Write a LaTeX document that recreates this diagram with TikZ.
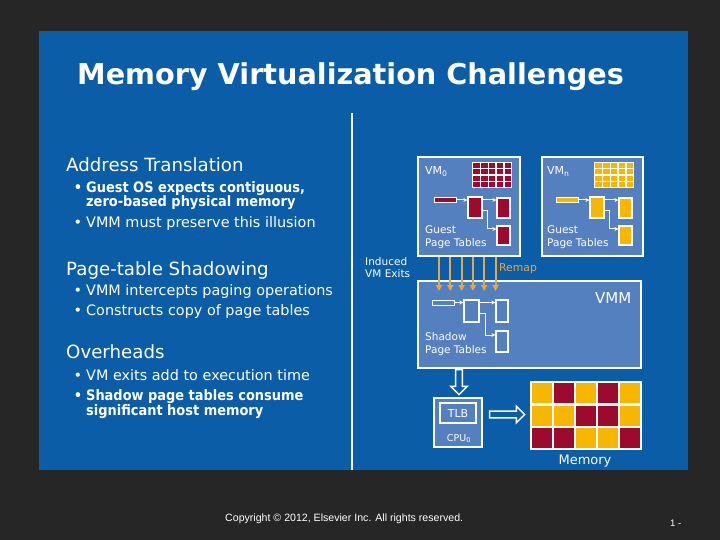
\documentclass[tikz,border=0pt]{standalone}
\usepackage{fontspec}
\setmainfont{DejaVu Sans}
\newfontfamily\condfont{DejaVu Sans Condensed}
\newfontfamily\copyfont{Liberation Sans}
\usetikzlibrary{arrows.meta, positioning, shapes.arrows}

\definecolor{slidegray}{HTML}{262626}
\definecolor{panelblue}{HTML}{0B5DA7}
\definecolor{boxblue}{HTML}{5580C0}
\definecolor{pagered}{HTML}{9C0B2D}
\definecolor{pageyellow}{HTML}{F7B600}
\definecolor{exitorange}{HTML}{E8A83C}
\colorlet{memy}{pageyellow}
\colorlet{memr}{pagered}

\newcommand{\dotitem}{\llap{\textbullet\hspace{4pt}}}

\begin{document}
\begin{tikzpicture}[
  x=1pt, y=-1pt,
  heading/.style={anchor=base west, inner sep=0pt, text=white, font=\fontsize{18.2}{20}\selectfont},
  itemtext/.style={anchor=base west, inner sep=0pt, text=white, align=left, font=\fontsize{14.4}{14.5}\selectfont},
  bolditem/.style={itemtext, font=\condfont\fontsize{14.4}{14.5}\selectfont\bfseries},
  vmbox/.style={draw=white, line width=2pt, fill=boxblue, inner sep=0pt},
  boxtag/.style={anchor=base west, inner sep=0pt, text=white, align=left, font=\fontsize{10.5}{13}\selectfont},
  ptab/.style={draw=white, line width=1.2pt, inner sep=0pt, minimum width=13pt, minimum height=20pt},
  pbar/.style={draw=white, line width=1pt, inner sep=0pt, minimum width=22pt, minimum height=5pt},
  link/.style={white, line width=1pt, -{Stealth[length=4pt, width=4pt]}},
  exit/.style={exitorange, line width=2pt, -{Triangle[length=6pt, width=6pt]}},
  hollow/.style={single arrow, draw=white, line width=1.5pt, fill=panelblue, inner xsep=0pt, inner ysep=2.6pt,
    single arrow head extend=5pt, minimum width=0pt}
]
% slide background
\fill[slidegray] (0,0) rectangle (720,540);
\useasboundingbox (0,0) rectangle (720,540);
\fill[panelblue] (39,31) rectangle (688,470);

\node[anchor=base west, inner sep=0pt, text=white, font=\fontsize{28.7}{30}\selectfont\bfseries]
  (title) at (77,85) {Memory Virtualization Challenges};

% left column
\node[heading]  (addr) at (66,172) {Address Translation};
\node[bolditem] (a1)   at (86,207) {\dotitem Guest OS expects contiguous,\\zero-based physical memory};
\node[itemtext] (a2)   at (86,228) {\dotitem VMM must preserve this illusion};
\node[heading]  (shad) at (66,275) {Page-table Shadowing};
\node[itemtext] (s1)   at (86,295) {\dotitem VMM intercepts paging operations};
\node[itemtext] (s2)   at (86,315) {\dotitem Constructs copy of page tables};
\node[heading]  (over) at (66,358) {Overheads};
\node[itemtext] (o1)   at (86,380) {\dotitem VM exits add to execution time};
\node[bolditem] (o2)   at (86,415) {\dotitem Shadow page tables consume\\significant host memory};

\draw[white, line width=1.5pt] (352,113) -- (352,470);

% guest VMs
\node[vmbox, minimum width=102pt, minimum height=99pt] (vm0) at (469,206.5) {};
\node[vmbox, minimum width=101pt, minimum height=99pt, right=20pt of vm0] (vmn) {};
\node[vmbox, minimum width=223pt, minimum height=87pt] (vmm) at (529.5,324.5) {};

\foreach \dx/\col/\id in {0/pagered/0, 122/pageyellow/n} {
  \begin{scope}[xshift=\dx]
    \fill[white] (472,162) rectangle (512,188);
    \foreach \i in {0,...,4}
      \foreach \j in {0,...,3}
        \fill[\col] (473.3+7.8*\i,163.3+6.2*\j) rectangle ++(6.4,5);
    \node[anchor=base west, inner sep=0pt, text=white, font=\fontsize{11}{13}\selectfont]
      (vmlbl\id) at (425,175) {VM\textsubscript{\id}};
    \node[pbar, fill=\col] (gbar\id) at (445,200) {};
    \node[ptab, fill=\col, minimum width=14pt, minimum height=21pt] (gta\id) at (475,207.5) {};
    \node[ptab, fill=\col] (gtb\id) at (503.5,208) {};
    \node[ptab, fill=\col, minimum height=19pt] (gtc\id) at (503.5,235.5) {};
    \draw[link] (gbar\id) -- (gbar\id -| gta\id.west);
    \draw[link] (gta\id.east |- gbar\id) -- (gtb\id.west |- gbar\id);
    \draw[link] ([yshift=-3.5pt]gta\id.east) -- ++(5,0) |- ([yshift=6.5pt]gtc\id.west);
    \node[boxtag] (gtag\id) at (425,246) {Guest\\Page Tables};
  \end{scope}
}

% induced exits
\foreach \k in {0,...,5}
  \draw[exit] ([xshift={22+11.3*\k}]vm0.south west) -- ([xshift={22+11.3*\k}, yshift=-11pt]vmm.north west);
\node[boxtag, font=\fontsize{10.5}{12}\selectfont] (induced) at (365,277) {Induced\\VM Exits};
\node[anchor=base west, inner sep=0pt, text=exitorange, font=\fontsize{10.8}{13}\selectfont] (remap) at (499,271) {Remap};

% VMM
\node[anchor=base west, inner sep=0pt, text=white, font=\fontsize{15}{17}\selectfont] (vmmlbl) at (595,303) {VMM};
\node[pbar, fill=boxblue] (sbar) at (443.5,302.5) {};
\node[ptab, fill=boxblue, minimum width=15pt, minimum height=22pt] (sta) at (471.5,311) {};
\node[ptab, fill=boxblue, minimum width=12pt, minimum height=22pt] (stb) at (502,311) {};
\node[ptab, fill=boxblue, minimum width=12pt, minimum height=21pt] (stc) at (502,341.5) {};
\draw[link] (sbar) -- (sbar -| sta.west);
\draw[link] (sta.east |- sbar) -- (stb.west |- sbar);
\draw[link] ([yshift=-2pt]sta.east) -- ++(6,0) |- ([yshift=6.5pt]stc.west);
\node[boxtag] (stag) at (425,353) {Shadow\\Page Tables};

% CPU and memory
\node[hollow, rotate=-90, minimum height=25pt] (down) at (459,380.5) {};
\node[vmbox, line width=1.5pt, minimum width=48pt, minimum height=49pt] (cpu) at (458,422.5) {};
\node[draw=white, line width=1.5pt, minimum width=36pt, minimum height=20pt, inner sep=0pt,
  text=white, font=\fontsize{11}{13}\selectfont] (tlb) at (458,413) {TLB};
\node[anchor=base, inner sep=0pt, text=white, font=\fontsize{9.5}{11}\selectfont] (cpulbl) at (459,441) {CPU\textsubscript{0}};
\node[hollow, minimum height=35pt] (across) at (505.5,414.5) {};

\node[fill=white, minimum width=112pt, minimum height=69pt, inner sep=0pt] (mem) at (586,415.5) {};
\foreach \r/\cells in {0/{y,r,y,r,y}, 1/{y,y,r,r,y}, 2/{r,r,y,y,r}}
  \foreach \c [count=\k from 0] in \cells
    \fill[mem\c] (532+22.1*\k,383+22.6*\r) rectangle ++(20,20);
\node[anchor=base, inner sep=0pt, text=white, font=\fontsize{13}{15}\selectfont] (memlbl) at (585,464) {Memory};

% footer
\node[anchor=base west, inner sep=0pt, text=white, font=\copyfont\fontsize{10.6}{12}\selectfont]
  (copy) at (225,521) {Copyright © 2012, Elsevier Inc. All rights reserved.};
\node[anchor=base west, inner sep=0pt, text=white, font=\copyfont\fontsize{9.5}{11}\selectfont]
  (pagenum) at (670,526) {1 -};
\end{tikzpicture}
\end{document}
